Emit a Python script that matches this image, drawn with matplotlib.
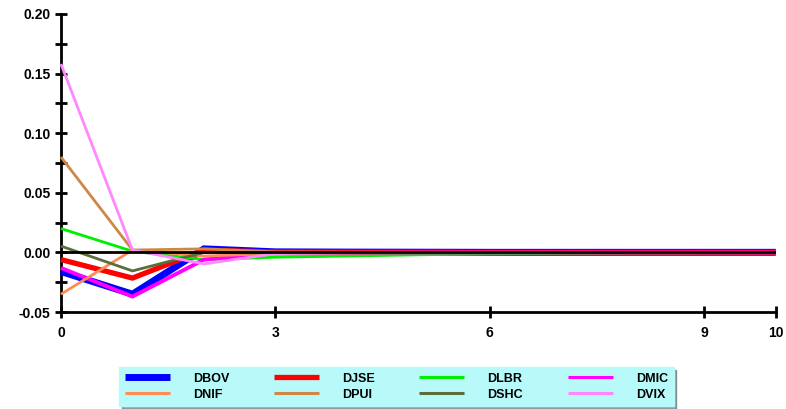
import matplotlib
matplotlib.use("Agg")
import matplotlib.pyplot as plt
from matplotlib.ticker import MultipleLocator, FixedLocator
from matplotlib.lines import Line2D

plt.rcParams['font.family'] = ['Liberation Sans', 'DejaVu Sans']
plt.rcParams['font.weight'] = 'bold'

periods = [0, 1, 2, 3, 4, 5, 6, 7, 8, 9, 10]
DBOV = [-0.016, -0.035, 0.003, 0.0005, 0.0003, 0.0002, 0.0001, 0.0001, 0.0001, 0.0001, 0.0001]
DJSE = [-0.006, -0.0215, 0.002, 0.0003, 0.0002, 0.0001, 0.0001, 0.0001, 0.0001, 0.0001, 0.0001]
DLBR = [0.020, 0.001, -0.006, -0.004, -0.003, -0.002, -0.0012, -0.0008, -0.0005, -0.0004, -0.0003]
DMIC = [-0.013, -0.037, -0.006, -0.0005, -0.0002, 0.0, 0.0, 0.0, 0.0, 0.0, 0.0]
DNIF = [-0.035, 0.002, -0.003, -0.001, -0.0005, -0.0002, -0.0001, 0.0, 0.0, 0.0, 0.0]
DPUI = [0.080, 0.002, 0.003, 0.0005, 0.0002, 0.0001, 0.0, 0.0, 0.0, 0.0, 0.0]
DSHC = [0.0053, -0.0155, 0.0, -0.0005, -0.0003, -0.0002, -0.0001, -0.0001, 0.0, 0.0, 0.0]
DVIX = [0.158, 0.002, -0.0096, -0.001, -0.0003, 0.0, 0.0, 0.0, 0.0, 0.0, 0.0]

series = [
    ("DBOV", DBOV, "#0000ff", 5.0, 5.0),
    ("DJSE", DJSE, "#ff0000", 3.8, 3.8),
    ("DLBR", DLBR, "#00ee00", 2.0, 2.2),
    ("DMIC", DMIC, "#ff00ff", 2.8, 2.2),
    ("DNIF", DNIF, "#ff8c55", 2.0, 2.2),
    ("DPUI", DPUI, "#cc8844", 2.0, 2.2),
    ("DSHC", DSHC, "#5a6e3a", 2.0, 2.2),
    ("DVIX", DVIX, "#ff88ff", 2.0, 2.2),
]

fig = plt.figure(figsize=(7.86, 4.09), dpi=100)
ax = fig.add_axes([0.0776, 0.237, 0.9094, 0.729])

handles = {}
for name, vals, col, lw, llw in series:
    ax.plot(periods, vals, color=col, lw=lw, solid_joinstyle='miter',
            solid_capstyle='butt', zorder=3, clip_on=False)
    handles[name] = Line2D([], [], color=col, lw=llw, solid_capstyle='butt')

ax.axhline(0, color='black', lw=2.0, zorder=5, solid_capstyle='butt')

ax.set_xlim(0, 10)
ax.set_ylim(-0.05, 0.20)
ax.xaxis.set_major_locator(FixedLocator([0, 3, 6, 9, 10]))
ax.yaxis.set_major_locator(MultipleLocator(0.05))
ax.yaxis.set_minor_locator(MultipleLocator(0.025))
ax.yaxis.set_major_formatter(matplotlib.ticker.FormatStrFormatter('%.2f'))
for s in ['top', 'right']:
    ax.spines[s].set_visible(False)
for s in ['left', 'bottom']:
    ax.spines[s].set_linewidth(2.0)
ax.tick_params(axis='both', which='both', direction='inout', width=2, length=8,
               labelsize=10)
ax.tick_params(axis='x', pad=6)
for lab in ax.get_xticklabels() + ax.get_yticklabels():
    lab.set_fontweight('bold')

order = ["DBOV", "DNIF", "DJSE", "DPUI", "DLBR", "DSHC", "DMIC", "DVIX"]
leg = fig.legend([handles[n] for n in order], order, ncol=4,
                 loc='lower left', bbox_to_anchor=(0.152, 0.007, 0.705, 0.095),
                 mode='expand', handlelength=3.6, handletextpad=1.85,
                 frameon=True, fancybox=False, shadow=True, borderaxespad=0,
                 labelspacing=0.3, borderpad=0.45, columnspacing=1.5,
                 prop={'weight': 'bold', 'size': 9})
frame = leg.get_frame()
frame.set_facecolor('#b8fafa')
frame.set_edgecolor('#b8fafa')
frame.set_alpha(1)

fig.savefig("out.png", dpi=100)
